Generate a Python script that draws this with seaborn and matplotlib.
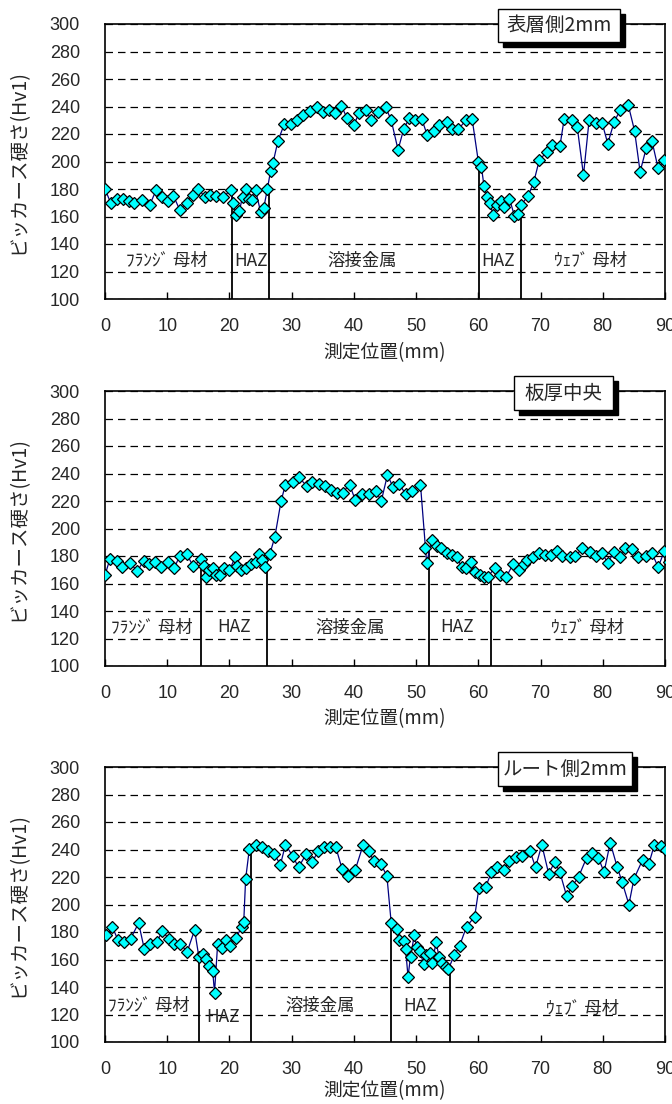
import matplotlib
matplotlib.use("Agg")
import matplotlib.pyplot as plt
from matplotlib.patches import Rectangle
import seaborn as sns
import pandas as pd

# ---- measured hardness profiles (position mm, Vickers HV1) ----
pos_surface = [0, 0.9, 1.9, 2.9, 3.8, 4.7, 5.9, 7.2, 8.2, 9.1, 10.1, 11, 12, 13.1, 14.1,
               15, 16, 16.9, 17.9, 18.9, 20.2, 20.5, 21.1, 21.6, 22.1, 22.7, 23.2, 23.6,
               24.2, 25, 25.5, 26.1, 26.6, 27.0, 27.8, 28.8, 29.9, 30.8, 31.9, 33, 34, 35,
               36, 37, 38, 38.9, 40, 40.8, 41.9, 42.8, 43.8, 45.1, 46, 47.1, 48, 48.9, 49.9,
               50.9, 51.8, 52.8, 53.7, 54.9, 55.7, 56.8, 58, 59, 60, 60.5, 60.9, 61.4, 61.8,
               62.4, 63, 63.7, 64.2, 65, 65.8, 66.3, 66.9, 68, 68.9, 69.8, 71, 71.9, 73.1,
               73.8, 75, 75.9, 76.9, 77.8, 78.9, 79.9, 80.8, 81.8, 82.8, 84.1, 85.1, 86, 87,
               87.9, 88.9, 89.9]
hv_surface = [180, 170, 173, 173, 171, 170, 172, 168.5, 179, 174.5, 171.5, 175, 165, 170, 176,
              180, 174.5, 176, 175, 174, 179, 170, 161, 164, 174.5, 180, 173, 172,
              179, 163.5, 166, 180, 193, 199, 215, 227, 227, 230, 234, 237, 239.5, 236,
              237.5, 235, 240.5, 231.5, 226.5, 235, 237.5, 230, 236, 239.5, 230, 208.5, 223.5, 231.5, 230,
              231, 219, 222.5, 226.5, 228.5, 223.5, 223.5, 230, 231, 200, 196, 182.5, 174.5, 170,
              161, 168.5, 171, 167, 173, 160.5, 162, 168.5, 175, 185, 201, 207, 212, 211,
              231, 230, 225, 190, 230, 228, 228, 213, 228.5, 237.5, 241, 222.5, 192.5, 210,
              215, 195, 201]

pos_middle = [0, 0.8, 2, 2.8, 4, 5.2, 6.2, 7, 8, 9, 10.1, 11.1, 12, 13.1, 14.2, 15.4, 15.9,
              16.3, 16.7, 17.3, 17.8, 18.5, 19.1, 20, 20.9, 21.2, 21.9, 22.7, 23.4, 24.3, 24.7,
              25.2, 25.7, 26.5, 27.3, 28.3, 29, 30.2, 31.1, 32.4, 33.3, 34.4, 35.4, 36.3, 37.3,
              38.2, 39.3, 40.2, 41.3, 42.5, 43.5, 44.4, 45.4, 46.3, 47.3, 48.3, 49.4, 50.7, 51.5,
              51.7, 52.5, 53.3, 54, 55, 55.8, 56.6, 57.3, 58, 58.9, 59.5, 60.2, 60.9, 61.6, 62.6,
              63.5, 64.5, 65.6, 66.5, 67.3, 67.9, 68.8, 69.7, 70.7, 71.6, 72.7, 73.5, 74.7, 75.6,
              76.7, 77.9, 78.9, 79.9, 80.8, 81.8, 82.8, 83.6, 84.7, 85.7, 86.9, 87.9, 88.9, 89.9,
              90.7]
hv_middle = [166, 178, 176.5, 172, 175, 169, 176.5, 174, 175.5, 172, 175.5, 171, 180, 181.5, 172.5,
             177.5, 173, 165, 169.5, 171, 166, 166.5, 171, 169.5, 179, 173, 170, 171, 174.5, 175.5,
             181.5, 177, 172, 181.5, 194, 220, 232, 234, 237.5, 231, 234, 232.5, 231, 228, 226,
             226, 232, 221, 225, 225, 227.5, 220, 239, 230, 232.5, 225, 227.5, 232, 186, 175,
             191.5, 187, 185.5, 182, 180.5, 179, 172, 171, 175.5, 168.5, 166.5, 165, 165, 171.5,
             166.5, 165, 174, 169.5, 174, 177, 179, 182, 180.5, 181, 184, 180, 179, 180, 185.5,
             183, 180, 182, 175, 183, 179, 185.5, 185, 179, 180, 182, 172, 183.5, 175.5]

pos_root = [0.2, 1.2, 2.1, 3, 4.1, 5.4, 6.3, 7.3, 8.3, 9.2, 10.3, 11.1, 12.1, 13.2, 14.4, 15.1,
            15.7, 16.3, 16.7, 17.3, 17.6, 18.1, 18.8, 19.4, 20.1, 21.1, 22, 22.3, 22.6, 23.2,
            24.3, 25.2, 26.2, 27.2, 28.2, 29, 30.2, 31.1, 32.3, 33.3, 34.3, 35.2, 36.1, 37.1,
            38.1, 39.1, 40.2, 41.5, 42.4, 43.2, 44.3, 45.3, 46, 46.9, 47.2, 48, 48.3, 48.7, 49.1,
            49.7, 50.1, 50.6, 51.2, 51.6, 52.2, 52.6, 53.2, 53.7, 54.1, 54.8, 55.2, 56.1, 57,
            58.1, 59.4, 60.1, 61.2, 62.1, 63, 64.1, 65, 66, 67, 68.3, 69.2, 70.2, 71.3, 72.3,
            73.1, 74.2, 75.1, 76.1, 77.4, 78.3, 79.3, 80.2, 81.2, 82.3, 83.1, 84.2, 85, 86.4,
            87.4, 88.3, 89.3, 90.1]
hv_root = [177.5, 183.5, 174, 173, 175, 186.5, 168, 171.5, 172.5, 180.5, 175, 171, 171.5, 165.5,
           181.5, 161.5, 164, 160.5, 155.5, 152, 136, 171, 168.5, 174, 170, 176, 184, 187.5,
           218.5, 240.5, 243.5, 242, 239, 236.5, 229, 243.5, 235, 227, 236.5, 231, 239, 241.5,
           241.5, 241.5, 226, 221, 225, 243.5, 239, 231.5, 229.5, 221, 186.5, 182.5, 174.5,
           173.5, 168, 147.5, 162, 177.5, 169, 166.5, 156.5, 163, 164.5, 157.5, 172.5, 162,
           157.5, 154.5, 153, 163, 170, 184, 191, 212, 213, 223.5, 227.5, 225, 232, 234.5, 235,
           239, 227, 243.5, 222.5, 231, 223.5, 206, 213.5, 220, 234, 237.5, 234, 223.5, 245,
           227.5, 216.5, 200, 218.5, 232.5, 229.5, 243.5, 242.5, 240]

# zone boundaries (mm) and the hardness where each boundary line stops
bound_surface = [20.4, 26.4, 60.1, 66.9]
bound_surface_top = [179, 180, 200, 168]
bound_middle = [15.4, 26.0, 52.1, 62.0]
bound_middle_top = [177, 181, 186, 165]
bound_root = [15.1, 23.4, 45.9, 55.4]
bound_root_top = [162, 240, 187, 154]

zone_names = ["ﾌﾗﾝｼﾞ 母材", "HAZ", "溶接金属", "HAZ", "ｳｪﾌﾞ 母材"]
zone_x_surface = [10, 23.4, 41.3, 63.2, 78.1]
zone_y_surface = [128, 128, 128, 128, 128]
zone_x_middle = [7.5, 20.7, 39.4, 56.6, 77.5]
zone_y_middle = [128, 128, 128, 128, 128]
zone_x_root = [7.1, 18.9, 34.6, 50.6, 76.7]
zone_y_root = [126, 118, 126, 126, 124]

titles = ["表層側2mm", "板厚中央", "ルート側2mm"]
y_ticks = list(range(100, 301, 20))
x_ticks = list(range(0, 91, 10))

sns.set_theme(style="white")
plt.rcParams["font.family"] = ["Liberation Sans", "Noto Sans CJK JP"]
JP = ["Noto Sans CJK JP", "DejaVu Sans"]

fig = plt.figure(figsize=(6.72, 11.04), dpi=100)
W, H = 672, 1104
ax_left, ax_w, ax_h = 105, 560, 275
tops = [24, 391, 767]
xlabel_gap = [54, 53, 49]

# label box extents (pixels: x0, x1, y0, y1)
boxes = [(498, 620, 9, 42), (514, 613, 376, 410), (498, 632, 752, 786)]

panels = [
    (pos_surface, hv_surface, bound_surface, bound_surface_top, zone_x_surface, zone_y_surface),
    (pos_middle, hv_middle, bound_middle, bound_middle_top, zone_x_middle, zone_y_middle),
    (pos_root, hv_root, bound_root, bound_root_top, zone_x_root, zone_y_root),
]

for i, (px, hv, bx, btop, zx, zy) in enumerate(panels):
    top = tops[i]
    ax = fig.add_axes([ax_left / W, (H - top - ax_h) / H, ax_w / W, ax_h / H])
    df = pd.DataFrame({"pos": px, "hv": hv})

    ax.set_xlim(0, 90)
    ax.set_ylim(100, 300)
    ax.set_yticks(y_ticks)
    ax.set_xticks(x_ticks)
    ax.set_axisbelow(True)
    ax.yaxis.grid(True, linestyle=(0, (6, 4)), color="black", linewidth=0.9)
    ax.xaxis.grid(False)

    # zone boundary lines
    ax.vlines(bx, 100, btop, colors="black", linewidth=1.3, zorder=2)

    sns.lineplot(data=df, x="pos", y="hv", ax=ax, sort=False, estimator=None,
                 color="#000080", linewidth=0.9, marker="D", markersize=6,
                 markerfacecolor="#00FFFF", markeredgecolor="black",
                 markeredgewidth=0.9, zorder=3)

    for sp in ax.spines.values():
        sp.set_color("black")
        sp.set_linewidth(1.2)
        sp.set_visible(True)

    ax.tick_params(axis="x", direction="in", length=5, width=1, color="black",
                   labelsize=13, pad=14, bottom=True, top=False)
    ax.tick_params(axis="y", length=0, labelsize=13, pad=18, left=True)
    ax.set_xlabel("")
    ax.set_ylabel("")

    for name, x, y in zip(zone_names, zx, zy):
        ax.text(x, y, name, ha="center", va="center", fontsize=12.5, family=JP)

    # axis titles
    ax.text((18 - ax_left) / ax_w, 0.5, "ビッカース硬さ(Hv1)", transform=ax.transAxes,
            rotation=90, ha="center", va="center", fontsize=14, family=JP)
    ax.text(0.5, -(xlabel_gap[i] / ax_h), "測定位置(mm)", transform=ax.transAxes,
            ha="center", va="center", fontsize=13.5, family=JP)

    # label box with drop shadow
    x0, x1, y0, y1 = boxes[i]
    bx0 = (x0 - ax_left) / ax_w
    bw = (x1 - x0) / ax_w
    by0 = 1 - (y1 - top) / ax_h
    bh = (y1 - y0) / ax_h
    ax.add_patch(Rectangle((bx0 + 5 / ax_w, by0 - 5 / ax_h), bw, bh, transform=ax.transAxes,
                           facecolor="black", edgecolor="black", clip_on=False, zorder=5))
    ax.add_patch(Rectangle((bx0, by0), bw, bh, transform=ax.transAxes,
                           facecolor="white", edgecolor="black", linewidth=1,
                           clip_on=False, zorder=6))
    ax.text(bx0 + bw / 2, by0 + bh / 2, titles[i], transform=ax.transAxes,
            ha="center", va="center", fontsize=14, family=JP, zorder=7)

fig.savefig("out.png", dpi=100)
